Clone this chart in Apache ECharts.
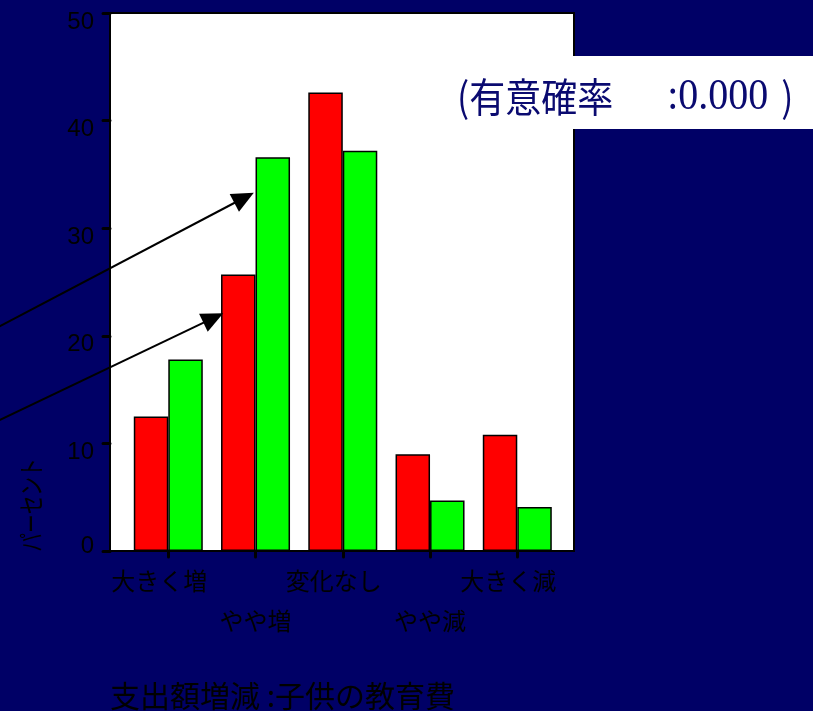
<!DOCTYPE html>
<html>
<head>
<meta charset="utf-8">
<script src="https://cdn.jsdelivr.net/npm/echarts@6/dist/echarts.min.js"></script>
<style>
  html, body { margin: 0; padding: 0; background: #000066; }
  #chart { width: 813px; height: 711px; }
</style>
</head>
<body>
<div id="chart"></div>
<script>
// Spending change categories (education costs for children)
const categories = ['大きく増', 'やや増', '変化なし', 'やや減', '大きく減'];
// Percentages per category for the two groups
const valuesRed = [12.5, 25.7, 42.6, 9.0, 10.8];
const valuesGreen = [17.8, 36.6, 37.2, 4.7, 4.1];
// Y axis range and step
const yMin = 0, yMax = 50, yStep = 10;

const titleMain = '(有意確率';
const titleValue = ':0.000';
const axisNameY = 'パーセント';
const axisNameX = '支出額増減 :子供の教育費';

// Arrow annotations in axis units: [startX, startY, endX, endY]
const arrows = [
  [-1.95, 20.8, 0.98, 33.3],
  [-1.95, 12.1, 0.63, 22.1]
];

const catIdx = categories.map((_, i) => i);
const evenIdx = catIdx.filter(i => i % 2 === 0);
const oddIdx = catIdx.filter(i => i % 2 === 1);
const xMin = -0.668, xMax = 4.650;

const labelFont = { fontFamily: 'Noto Sans CJK JP', fontSize: 24, color: '#000' };

const chart = echarts.init(document.getElementById('chart'), null, { renderer: 'canvas' });

const option = {
  backgroundColor: '#000066',
  animation: false,
  grid: {
    left: 110, top: 13, width: 464, height: 538,
    show: true, backgroundColor: '#ffffff', borderColor: '#000', borderWidth: 2
  },
  xAxis: [
    {
      // first row of category labels, plus the axis line and ticks
      type: 'value', min: xMin, max: xMax, position: 'bottom',
      axisLine: { show: true, onZero: false, lineStyle: { color: '#000', width: 2 } },
      axisTick: { show: true, customValues: catIdx, length: 6, lineStyle: { color: '#000', width: 3, cap: 'round' } },
      splitLine: { show: false },
      axisLabel: Object.assign({
        customValues: evenIdx,
        showMinLabel: true, showMaxLabel: true, hideOverlap: false,
        margin: 10, lineHeight: 40,
        formatter: function (v) { return '{a|' + categories[Math.round(v)] + '}'; },
        rich: { a: Object.assign({ padding: [0, 18, 0, 0], lineHeight: 40 }, labelFont) }
      }, labelFont)
    },
    {
      // second row of category labels
      type: 'value', min: xMin, max: xMax, position: 'bottom', offset: 0,
      axisLine: { show: false, onZero: false },
      axisTick: { show: false },
      splitLine: { show: false },
      axisLabel: Object.assign({
        customValues: oddIdx,
        showMinLabel: true, showMaxLabel: true, hideOverlap: false,
        margin: 50, lineHeight: 40,
        formatter: function (v) { return categories[Math.round(v)]; }
      }, labelFont)
    }
  ],
  yAxis: {
    type: 'value', min: yMin, max: yMax, interval: yStep,
    axisLine: { show: true, onZero: false, lineStyle: { color: '#000', width: 2 } },
    axisTick: { show: true, length: 7, lineStyle: { color: '#000', width: 3, cap: 'round' } },
    splitLine: { show: false },
    axisLabel: {
      margin: 16,
      color: '#000',
      fontFamily: 'Liberation Sans',
      fontSize: 24,
      padding: [18, 0, 0, 0],
      formatter: function (v) { return v === 0 ? '{z|0}' : String(v); },
      rich: { z: { padding: [0, 0, 27, 0], fontFamily: 'Liberation Sans', fontSize: 24, color: '#000' } }
    }
  },
  series: [
    {
      name: '系列1', type: 'bar', xAxisIndex: 0, barWidth: 34.5, barGap: '0%',
      itemStyle: { color: '#ff0000', borderColor: '#000', borderWidth: 1.5 },
      data: valuesRed.map((v, i) => [i, v])
    },
    {
      name: '系列2', type: 'bar', xAxisIndex: 0, barWidth: 34.5, barGap: '0%',
      itemStyle: { color: '#00ff00', borderColor: '#000', borderWidth: 1.5 },
      data: valuesGreen.map((v, i) => [i, v])
    }
  ]
};

chart.setOption(option);

// Build annotation graphics (arrows, labels, significance box)
const graphics = [];
arrows.forEach(function (a) {
  const p0 = chart.convertToPixel({ xAxisIndex: 0, yAxisIndex: 0 }, [a[0], a[1]]);
  const p1 = chart.convertToPixel({ xAxisIndex: 0, yAxisIndex: 0 }, [a[2], a[3]]);
  const dx = p1[0] - p0[0], dy = p1[1] - p0[1];
  const len = Math.sqrt(dx * dx + dy * dy);
  const ux = dx / len, uy = dy / len;
  const headLen = 22, headHalf = 10;
  const bx = p1[0] - ux * headLen, by = p1[1] - uy * headLen;
  graphics.push({
    type: 'line', z: 100,
    shape: { x1: p0[0], y1: p0[1], x2: bx + ux * 2, y2: by + uy * 2 },
    style: { stroke: '#000', lineWidth: 2 }
  });
  graphics.push({
    type: 'polygon', z: 100,
    shape: { points: [[p1[0], p1[1]], [bx - uy * headHalf, by + ux * headHalf], [bx + uy * headHalf, by - ux * headHalf]] },
    style: { fill: '#000' }
  });
});

// Significance box
graphics.push({
  type: 'rect', z: 100,
  shape: { x: 450, y: 56, width: 363, height: 73 },
  style: { fill: '#ffffff' }
});
graphics.push({
  type: 'text', z: 101, x: 457, y: 97, scaleY: 1.12,
  style: {
    text: '{p|' + titleMain + '}{sp| }{n|' + titleValue + '}{q|)}',
    verticalAlign: 'middle', align: 'left',
    rich: {
      p: { fontFamily: 'Noto Sans CJK JP', fontSize: 36, fill: '#0a0a70' },
      sp: { width: 54, fontSize: 36 },
      n: { fontFamily: 'Liberation Serif', fontSize: 40, fill: '#0a0a70', width: 114 },
      q: { fontFamily: 'Noto Sans CJK JP', fontSize: 36, fill: '#0a0a70' }
    }
  }
});

// Axis titles
graphics.push({
  type: 'text', z: 100, x: 31, y: 505, rotation: Math.PI / 2, scaleX: 0.72,
  style: { text: axisNameY, fontFamily: 'Noto Sans CJK JP', fontSize: 26, fill: '#000', align: 'center', verticalAlign: 'middle' }
});
graphics.push({
  type: 'text', z: 100, x: 110, y: 696,
  style: { text: axisNameX, fontFamily: 'Noto Sans CJK JP', fontSize: 30, fill: '#000', align: 'left', verticalAlign: 'middle' }
});

chart.setOption({ graphic: graphics });
</script>
</body>
</html>
